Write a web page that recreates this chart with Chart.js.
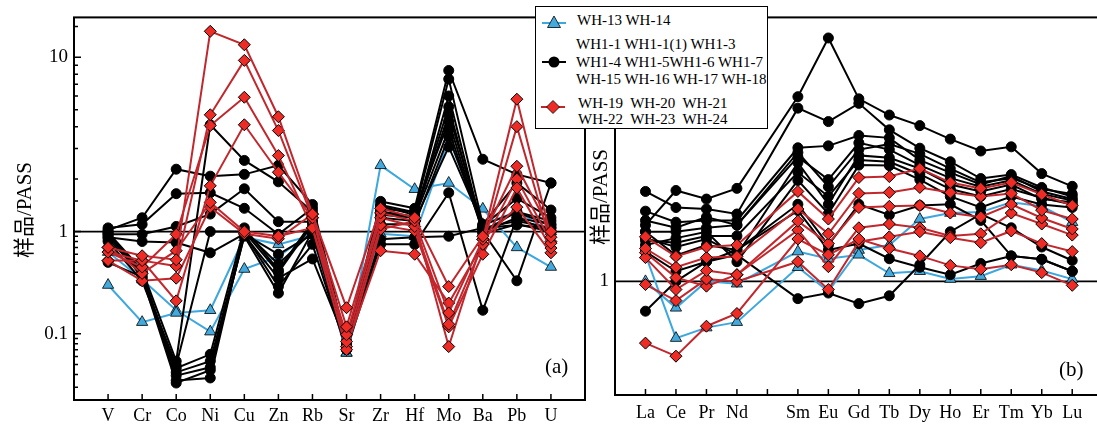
<!DOCTYPE html>
<html>
<head>
<meta charset="utf-8">
<script src="https://cdn.jsdelivr.net/npm/chart.js"></script>
<style>
  body { margin: 0; width: 1097px; height: 430px; overflow: hidden; position: relative; background: #fff;
         font-family: 'Liberation Serif', 'Noto Sans CJK SC', serif; color: #000; }
  canvas { position: absolute; top: 0; }
  #ca { left: 0; }
  #cb { left: 600px; }
  .yt { position: absolute; width: 140px; height: 24px; line-height: 24px; text-align: center;
        font-size: 21px; transform: rotate(-90deg); white-space: nowrap; }
  .tag { position: absolute; font-size: 21px; line-height: 1; }
  #legend { position: absolute; left: 535px; top: 6px; width: 231px; height: 121px;
            border: 1.5px solid #000; background: #fff; z-index: 5;
            font-family: 'Liberation Serif', 'Times New Roman', serif; font-size: 15px; }
  #legend div { position: absolute; white-space: pre; line-height: 18px; }
  #legend svg { position: absolute; }
</style>
</head>
<body>
<canvas id="ca" width="600" height="430"></canvas>
<canvas id="cb" width="510" height="430"></canvas>

<div class="yt" style="left:-46px; top:198px;">样品/PASS</div>
<div class="yt" style="left:530px; top:185px;">样品/PASS</div>
<div class="tag" style="left:545px; top:356px;">(a)</div>
<div class="tag" style="left:1059px; top:359px;">(b)</div>

<div id="legend">
  <svg style="left:6px; top:7px" width="24" height="16">
    <line x1="0" y1="9" x2="24" y2="9" stroke="#3ea7dd" stroke-width="2"/>
    <polygon points="12,2 18.5,13.5 5.5,13.5" fill="#44aadd" stroke="#000" stroke-width="0.8"/>
  </svg>
  <div style="left:41px; top:4px;">WH-13 WH-14</div>
  <svg style="left:6px; top:47px" width="24" height="16">
    <line x1="0" y1="8" x2="24" y2="8" stroke="#000" stroke-width="2"/>
    <circle cx="12" cy="8" r="5.5" fill="#000"/>
  </svg>
  <div style="left:40px; top:28px;">WH1-1 WH1-1(1) WH1-3</div>
  <div style="left:40px; top:46px;">WH1-4 WH1-5WH1-6 WH1-7</div>
  <div style="left:40px; top:63px;">WH-15 WH-16 WH-17 WH-18</div>
  <svg style="left:5px; top:92px" width="24" height="16">
    <line x1="0" y1="8" x2="24" y2="8" stroke="#c1272d" stroke-width="2"/>
    <polygon points="12,1.5 18.5,8 12,14.5 5.5,8" fill="#ee2b24" stroke="#000" stroke-width="0.8"/>
  </svg>
  <div style="left:42px; top:87px;">WH-19  WH-20  WH-21</div>
  <div style="left:42px; top:103px;">WH-22  WH-23  WH-24</div>
</div>

<script>
// categories
const traceCats = ['V', 'Cr', 'Co', 'Ni', 'Cu', 'Zn', 'Rb', 'Sr', 'Zr', 'Hf', 'Mo', 'Ba', 'Pb', 'U'];
const reeCats = ['La', 'Ce', 'Pr', 'Nd', '', 'Sm', 'Eu', 'Gd', 'Tb', 'Dy', 'Ho', 'Er', 'Tm', 'Yb', 'Lu'];

// (a) trace elements / PASS
const traceBlue = [
  [0.30, 0.13, 0.16, 0.17, 0.88, 0.75, 0.92, 0.065, 0.95, 0.90, 3.4, 1.1, 1.3, 1.0],
  [0.63, 0.34, 0.17, 0.105, 0.43, 0.57, 1.0, 0.065, 2.4, 1.75, 1.9, 1.35, 0.70, 0.45]
];
const traceBlack = [
  [1.02, 1.2, 2.28, 2.08, 2.13, 2.4, 1.43, 0.08, 1.49, 1.36, 8.4, 2.6, 2.13, 1.9],
  [1.05, 1.1, 1.65, 1.67, 1.36, 0.94, 1.36, 0.078, 1.42, 1.29, 7.5, 1.1, 1.9, 1.33],
  [0.94, 0.94, 1.07, 1.26, 1.76, 1.14, 1.14, 0.075, 1.3, 1.22, 4.7, 1.08, 1.55, 1.2],
  [0.88, 0.8, 0.78, 0.62, 0.95, 0.6, 0.94, 0.072, 0.84, 0.88, 0.9, 1.05, 1.09, 1.05],
  [0.98, 0.42, 0.054, 4.1, 2.56, 1.93, 1.3, 0.08, 1.35, 1.3, 4.3, 1.0, 1.3, 1.15],
  [1.0, 0.35, 0.049, 1.0, 1.0, 0.48, 1.0, 0.07, 0.75, 0.75, 1.67, 0.17, 1.2, 1.1],
  [0.8, 0.33, 0.046, 0.063, 1.05, 0.42, 1.14, 0.085, 1.3, 1.2, 3.86, 1.0, 0.33, 1.9],
  [0.9, 0.4, 0.042, 0.054, 0.95, 0.29, 0.75, 0.07, 1.2, 1.15, 3.06, 1.09, 1.29, 1.09],
  [0.85, 0.38, 0.039, 0.047, 0.9, 0.25, 1.0, 0.075, 1.25, 1.2, 6.0, 1.0, 1.2, 1.0],
  [0.5, 0.36, 0.033, 0.044, 0.92, 0.35, 0.54, 0.08, 1.4, 1.25, 5.2, 0.95, 1.1, 1.0],
  [0.95, 0.4, 0.035, 0.037, 1.0, 0.4, 1.1, 0.072, 1.1, 1.1, 3.5, 1.05, 1.15, 1.05]
];
const traceRed = [
  [0.70, 0.58, 0.53, 14.1, 11.8, 4.56, 1.26, 0.18, 1.36, 1.2, 0.29, 0.9, 2.37, 1.0],
  [0.63, 0.52, 0.46, 4.68, 9.6, 3.8, 1.2, 0.117, 1.28, 1.15, 0.16, 0.84, 5.75, 0.88],
  [0.63, 0.45, 0.94, 4.06, 5.9, 2.73, 1.05, 0.098, 1.2, 1.07, 0.124, 0.75, 4.0, 0.77],
  [0.52, 0.52, 0.21, 1.83, 4.1, 2.19, 1.2, 0.084, 1.09, 1.01, 0.117, 0.6, 1.78, 0.69],
  [0.70, 0.39, 0.65, 1.47, 1.0, 0.9, 1.05, 0.070, 1.03, 1.15, 0.075, 0.84, 1.38, 0.62],
  [0.52, 0.33, 0.35, 1.38, 0.95, 0.85, 1.26, 0.075, 0.65, 0.6, 0.2, 0.75, 2.0, 0.8]
];

// (b) REE / PASS, Pm not analysed
const reeBlue = [
  [1.0, 0.71, 1.0, 0.97, null, 1.47, 1.34, 1.41, 1.11, 1.14, 1.03, 1.07, 1.24, 1.15, 1.03],
  [1.41, 0.48, 0.55, 0.59, null, 1.2, 0.88, 1.5, 1.6, 2.24, 2.42, 2.45, 2.78, 2.64, 2.15]
];
const reeBlack = [
  [2.07, 3.24, 2.9, 3.33, null, 10.9, 23.3, 10.6, 8.6, 7.5, 6.3, 5.4, 5.7, 4.03, 3.42],
  [3.2, 2.6, 2.55, 2.39, null, 9.4, 7.9, 10.0, 7.1, 5.6, 4.7, 3.78, 3.98, 3.37, 3.0],
  [2.48, 2.15, 2.2, 2.2, null, 5.63, 5.77, 6.6, 6.4, 4.8, 4.08, 3.5, 3.9, 3.2, 2.9],
  [1.9, 1.9, 2.0, 2.07, null, 5.0, 3.73, 6.0, 5.5, 4.5, 3.8, 3.4, 3.7, 3.1, 2.85],
  [1.75, 1.56, 1.73, 1.41, null, 4.64, 2.71, 5.1, 4.95, 4.3, 3.5, 3.2, 3.5, 2.9, 2.78],
  [1.6, 1.75, 1.9, 1.29, null, 3.69, 2.4, 4.5, 4.47, 3.73, 3.0, 2.6, 3.0, 2.7, 2.6],
  [1.47, 1.14, 1.29, 1.5, null, 2.71, 1.6, 2.71, 2.36, 2.67, 2.71, 2.2, 1.39, 1.33, 1.14],
  [0.68, 1.0, 1.29, 1.41, null, 0.8, 0.86, 0.75, 0.83, 1.24, 1.9, 2.39, 2.0, 1.56, 1.31],
  [1.9, 1.4, 1.6, 1.5, null, 2.5, 1.5, 1.63, 1.34, 1.2, 1.09, 1.26, 1.39, 1.33, 1.14],
  [2.2, 2.0, 2.3, 2.07, null, 5.3, 3.4, 5.5, 5.9, 5.2, 4.3, 3.6, 3.8, 3.3, 3.1],
  [1.7, 1.65, 1.8, 1.8, null, 4.1, 3.0, 4.8, 4.7, 4.0, 3.3, 3.0, 3.3, 2.95, 2.7]
];
const reeRed = [
  [1.78, 1.38, 1.56, 1.6, null, 3.2, 2.24, 3.83, 3.88, 4.3, 3.59, 3.33, 3.59, 3.08, 2.67],
  [1.53, 1.2, 1.36, 1.38, null, 2.55, 1.85, 3.12, 3.16, 3.37, 3.16, 3.0, 3.12, 2.51, 2.24],
  [1.36, 0.9, 1.15, 1.09, null, 2.18, 1.63, 2.6, 2.64, 2.67, 2.42, 2.3, 2.71, 2.27, 1.97],
  [0.45, 0.38, 0.56, 0.66, null, 1.73, 1.41, 1.73, 1.53, 1.39, 1.23, 1.17, 1.24, 1.12, 0.95],
  [0.96, 0.78, 1.03, 1.0, null, 1.29, 0.9, 1.67, 1.78, 1.9, 1.76, 1.65, 1.92, 1.63, 1.47],
  [1.45, 1.05, 0.94, 1.09, null, 1.94, 1.21, 2.0, 2.1, 2.0, 1.8, 1.85, 2.42, 2.1, 1.82]
];

Chart.defaults.font.family = "'Liberation Serif', 'Times New Roman', serif";
Chart.defaults.color = '#000';

// the (a) axis has a wider decade above 1 than below it
const SPLIT = { zero: 0.4402, below: 0.2672, above: 0.4555 };
class SplitLogScale extends Chart.LogarithmicScale {
  getPixelForValue(value) {
    if (value === undefined || value === null || value <= 0) value = this.min;
    const L = Math.log10(value);
    const f = SPLIT.zero + L * (L < 0 ? SPLIT.below : SPLIT.above);
    return this.getPixelForDecimal(f);
  }
  getValueForPixel(pixel) {
    const f = this.getDecimalForPixel(pixel) - SPLIT.zero;
    return Math.pow(10, f / (f < 0 ? SPLIT.below : SPLIT.above));
  }
}
SplitLogScale.id = 'splitlog';
SplitLogScale.defaults = Chart.LogarithmicScale.defaults;
Chart.register(SplitLogScale);

const isDecade = v => Math.abs(Math.log10(v) - Math.round(Math.log10(v))) < 1e-6;

const deco = {
  id: 'deco',
  beforeDatasetsDraw(chart) {
    const { ctx, chartArea: a } = chart;
    const py = chart.scales.y.getPixelForValue(1);
    ctx.save();
    ctx.strokeStyle = '#000';
    ctx.lineWidth = 1.6;
    ctx.beginPath();
    ctx.moveTo(a.left, py);
    ctx.lineTo(a.right, py);
    ctx.stroke();
    ctx.restore();
  },
  afterDraw(chart, args, opts) {
    const { ctx, chartArea: a } = chart;
    const x = chart.scales.x, y = chart.scales.y;
    ctx.save();
    ctx.strokeStyle = '#000';
    ctx.lineWidth = 2;
    ctx.strokeRect(a.left, a.top, a.right - a.left, a.bottom - a.top);
    ctx.lineWidth = 1.5;
    ctx.beginPath();
    x.ticks.forEach(t => {
      if (t.value >= 0 && t.value <= opts.lastX) {
        const px = x.getPixelForValue(t.value);
        ctx.moveTo(px, a.bottom);
        ctx.lineTo(px, a.bottom - 6);
      }
    });
    if (opts.yTicks) {
      y.ticks.forEach(t => {
        if (t.value > y.min * 1.01 && t.value < y.max * 0.99) {
          const py = y.getPixelForValue(t.value);
          ctx.moveTo(a.left, py);
          ctx.lineTo(a.left + (isDecade(t.value) ? 7 : 4), py);
        }
      });
    }
    ctx.stroke();
    ctx.restore();
  }
};

const redStyle = { borderColor: '#c1272d', borderWidth: 2, pointStyle: 'rectRot', pointRadius: 6,
  pointBackgroundColor: '#ee2b24', pointBorderColor: '#000', pointBorderWidth: 1 };
const blackStyle = { borderColor: '#000', borderWidth: 2, pointStyle: 'circle', pointRadius: 5,
  pointBackgroundColor: '#000', pointBorderColor: '#000', pointBorderWidth: 1 };
const blueStyle = { borderColor: '#3ea7dd', borderWidth: 2, pointStyle: 'triangle', pointRadius: 6.5,
  pointBackgroundColor: '#44aadd', pointBorderColor: '#000', pointBorderWidth: 0.8 };

function series(rows, style) {
  return rows.map(r => Object.assign({
    data: r.map((v, i) => v == null ? null : { x: i, y: v }).filter(p => p),
    tension: 0
  }, style));
}

function xAxis(cats, max, height, pad) {
  return {
    type: 'linear', min: -1, max: max,
    grid: { display: false, drawTicks: false }, border: { display: false },
    ticks: { stepSize: 1, autoSkip: false, maxRotation: 0, padding: pad, font: { size: 18 },
             callback: v => cats[v] || '' },
    afterFit: s => { s.height = height; }
  };
}

const common = {
  responsive: false, animation: false,
  plugins: { legend: { display: false }, tooltip: { enabled: false } }
};

new Chart(document.getElementById('ca'), {
  type: 'line',
  data: { datasets: [].concat(series(traceRed, redStyle), series(traceBlack, blackStyle), series(traceBlue, blueStyle)) },
  options: Object.assign({}, common, {
    layout: { padding: { top: 7, right: 15, left: 0, bottom: 0 } },
    plugins: Object.assign({}, common.plugins, { deco: { lastX: 13, yTicks: true } }),
    scales: {
      x: xAxis(traceCats, 14, 30, 5),
      y: {
        type: 'splitlog', min: 0.02252, max: 16.94,
        grid: { display: false, drawTicks: false }, border: { display: false },
        ticks: { autoSkip: false, padding: 6, font: { size: 19 },
                 callback: v => (isDecade(v) && v > 0.05 && v < 15) ? (v >= 1 ? String(Math.round(v)) : '0.1') : '' },
        afterFit: s => { s.width = 74; }
      }
    }
  }),
  plugins: [deco]
});

new Chart(document.getElementById('cb'), {
  type: 'line',
  data: { datasets: [].concat(series(reeRed, redStyle), series(reeBlack, blackStyle), series(reeBlue, blueStyle)) },
  options: Object.assign({}, common, {
    layout: { padding: { top: 13, right: 7, left: 0, bottom: 0 } },
    plugins: Object.assign({}, common.plugins, { deco: { lastX: 14, yTicks: false } }),
    scales: {
      x: xAxis(reeCats, 15, 35, 7),
      y: {
        type: 'logarithmic', min: 0.23, max: 30.4,
        grid: { display: false, drawTicks: false }, border: { display: false },
        ticks: { autoSkip: false, padding: 6, font: { size: 19 },
                 callback: v => (Math.abs(v - 1) < 1e-9 ? '1' : '') },
        afterFit: s => { s.width = 15; }
      }
    }
  }),
  plugins: [deco]
});
</script>
</body>
</html>
